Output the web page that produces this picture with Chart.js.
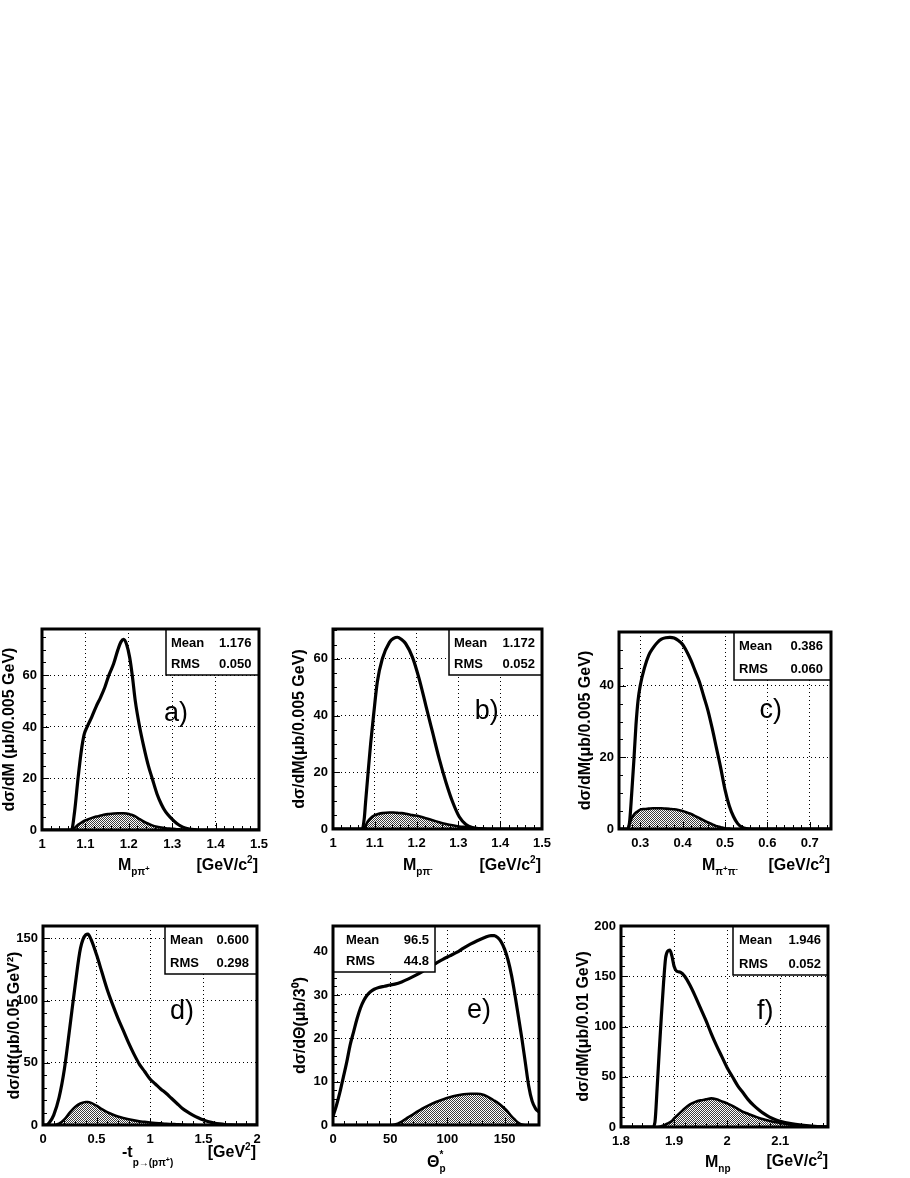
<!DOCTYPE html>
<html>
<head>
<meta charset="utf-8">
<script src="https://cdn.jsdelivr.net/npm/chart.js@4/dist/chart.umd.min.js"></script>
<style>
  body { margin: 0; background: #fff; }
  #page { position: relative; width: 910px; height: 1178px; overflow: hidden; background: #fff; }
  #page canvas { position: absolute; }
</style>
</head>
<body>
<div id="page">
  <canvas id="pa"></canvas>
  <canvas id="pb"></canvas>
  <canvas id="pc"></canvas>
  <canvas id="pd"></canvas>
  <canvas id="pe"></canvas>
  <canvas id="pf"></canvas>
</div>
<script>
// a) M(p pi+)
const mPpipX   = [1.00, 1.03, 1.06, 1.068, 1.075, 1.083, 1.09, 1.097, 1.104, 1.115, 1.125, 1.135, 1.145, 1.154, 1.165, 1.175, 1.182, 1.188, 1.195, 1.202, 1.208, 1.215, 1.225, 1.235, 1.245, 1.254, 1.265, 1.275, 1.285, 1.298, 1.31, 1.32, 1.33, 1.34, 1.35, 1.36, 1.40, 1.45, 1.50];
const mPpipAll = [0, 0, 0, 0, 7, 20, 30, 37, 40, 44, 48, 51.5, 55.5, 60, 64.5, 70, 73, 74, 72, 67, 60, 50, 40, 32, 25, 20, 14, 10, 7, 4.5, 2.6, 1.5, 0.8, 0.4, 0.15, 0, 0, 0, 0];
const mPpipSel = [0, 0, 0, 0, 0.8, 2, 2.8, 3.5, 4, 4.7, 5.2, 5.6, 6, 6.2, 6.4, 6.5, 6.5, 6.5, 6.4, 6.1, 5.8, 5.3, 4.2, 3.2, 2.4, 1.8, 1.3, 1.0, 0.7, 0.5, 0.3, 0.2, 0.1, 0, 0, 0, 0, 0, 0];
const mPpipXTicks = [1, 1.1, 1.2, 1.3, 1.4, 1.5];
const mPpipYTicks = [0, 20, 40, 60];

// b) M(p pi-)
const mPpimX   = [1.00, 1.03, 1.06, 1.07, 1.075, 1.078, 1.084, 1.09, 1.097, 1.106, 1.118, 1.135, 1.145, 1.154, 1.164, 1.174, 1.19, 1.206, 1.222, 1.238, 1.254, 1.27, 1.286, 1.302, 1.318, 1.333, 1.35, 1.37, 1.40, 1.45, 1.50];
const mPpimAll = [0, 0, 0, 0, 4, 9.6, 20, 30, 40, 51.8, 60, 65.8, 67.2, 67.6, 66.8, 65.3, 60.6, 53, 43.6, 34.2, 24.8, 16.6, 9.6, 4.3, 1.6, 0.5, 0.1, 0, 0, 0, 0];
const mPpimSel = [0, 0, 0, 0, 0.5, 1.2, 2.8, 3.8, 4.6, 5.2, 5.6, 5.8, 5.8, 5.7, 5.6, 5.4, 4.9, 4.5, 3.8, 3.1, 2.4, 1.8, 1.3, 0.9, 0.65, 0.4, 0.15, 0, 0, 0, 0];
const mPpimXTicks = [1, 1.1, 1.2, 1.3, 1.4, 1.5];
const mPpimYTicks = [0, 20, 40, 60];

// c) M(pi+ pi-)
const mPipiX   = [0.25, 0.26, 0.27, 0.275, 0.28, 0.285, 0.29, 0.295, 0.30, 0.31, 0.32, 0.33, 0.34, 0.35, 0.36, 0.37, 0.38, 0.39, 0.40, 0.41, 0.42, 0.43, 0.44, 0.45, 0.46, 0.47, 0.48, 0.49, 0.50, 0.51, 0.52, 0.53, 0.54, 0.55, 0.56, 0.60, 0.65, 0.70, 0.75];
const mPipiAll = [0, 0, 0, 2, 10, 19, 29, 36, 40, 45, 48.5, 50.5, 52, 53, 53.4, 53.5, 53.3, 52.6, 51.5, 49.5, 47, 44, 41, 37, 33, 28, 22.5, 17, 11, 6.5, 3.5, 1.5, 0.5, 0.1, 0, 0, 0, 0, 0];
const mPipiSel = [0, 0, 0, 1.5, 3, 4, 4.6, 5.0, 5.4, 5.6, 5.7, 5.8, 5.8, 5.8, 5.7, 5.6, 5.5, 5.3, 5.0, 4.6, 4.2, 3.6, 3.0, 2.4, 1.8, 1.3, 0.8, 0.5, 0.2, 0.1, 0, 0, 0, 0, 0, 0, 0, 0, 0];
const mPipiXTicks = [0.3, 0.4, 0.5, 0.6, 0.7];
const mPipiYTicks = [0, 20, 40];

// d) -t
const tX   = [0, 0.03, 0.06, 0.1, 0.15, 0.2, 0.25, 0.3, 0.35, 0.4, 0.42, 0.45, 0.5, 0.55, 0.6, 0.65, 0.7, 0.75, 0.8, 0.85, 0.9, 0.95, 1.0, 1.05, 1.1, 1.15, 1.2, 1.25, 1.3, 1.35, 1.4, 1.45, 1.5, 1.55, 1.6, 1.65, 1.7, 1.75, 1.8, 1.9, 2.0];
const tAll = [0, 0, 2, 8, 22, 45, 78, 112, 142, 153, 153.5, 149, 137, 123, 109, 97, 86, 76, 66, 57, 49, 43, 37, 33, 29, 25.5, 21.5, 17.5, 13.5, 10.5, 8, 5.8, 4, 2.6, 1.6, 0.9, 0.4, 0.15, 0, 0, 0];
const tSel = [0, 0, 0, 0, 1, 4.5, 10, 14.5, 17.3, 18.5, 18.5, 17.8, 15.5, 12.8, 10.3, 8.4, 6.9, 5.7, 4.6, 3.7, 3.0, 2.5, 2.0, 1.6, 1.3, 1.0, 0.8, 0.6, 0.4, 0.25, 0.15, 0.05, 0, 0, 0, 0, 0, 0, 0, 0, 0];
const tXTicks = [0, 0.5, 1, 1.5, 2];
const tYTicks = [0, 50, 100, 150];

// e) Theta*_p
const thX   = [0, 3, 6, 9, 12, 15, 18, 21, 24, 27, 30, 33, 36, 40, 45, 50, 54, 60, 66, 72, 78, 84, 90, 96, 102, 108, 114, 120, 126, 132, 138, 141, 144, 147, 150, 153, 156, 159, 162, 165, 168, 171, 174, 177, 180];
const thAll = [2, 4.5, 7.5, 11, 14.5, 18.5, 21.5, 24.5, 27, 28.8, 30, 30.8, 31.3, 31.7, 32, 32.3, 32.5, 33, 33.7, 34.5, 35.4, 36.4, 37.3, 38.2, 39, 39.8, 40.8, 41.7, 42.5, 43.2, 43.7, 43.7, 43.2, 42.2, 40.5, 38, 34.5, 30, 25, 20, 14.5, 9, 5.5, 3.8, 3];
const thSel = [0, 0, 0, 0, 0, 0, 0, 0, 0, 0, 0, 0, 0, 0, 0, 0, 0.1, 0.8, 1.8, 2.8, 3.8, 4.6, 5.3, 5.9, 6.4, 6.8, 7.1, 7.2, 7.2, 6.9, 6.1, 5.6, 5.1, 4.5, 3.8, 3.0, 2.0, 1.2, 0.5, 0.1, 0, 0, 0, 0, 0];
const thXTicks = [0, 50, 100, 150];
const thYTicks = [0, 10, 20, 30, 40];

// f) M(n p)
const mNpX   = [1.8, 1.83, 1.86, 1.864, 1.868, 1.872, 1.876, 1.88, 1.884, 1.888, 1.892, 1.896, 1.9, 1.905, 1.912, 1.92, 1.93, 1.94, 1.95, 1.96, 1.97, 1.98, 1.99, 2.0, 2.01, 2.02, 2.03, 2.04, 2.05, 2.06, 2.07, 2.08, 2.09, 2.1, 2.12, 2.14, 2.16, 2.18, 2.19];
const mNpAll = [0, 0, 0, 5, 38, 75, 110, 142, 168, 175, 176, 170, 160, 155, 154, 150, 141, 130, 118, 106, 93, 81, 70, 59, 50, 41, 34, 27, 21.5, 17, 13, 9.8, 7.5, 5.8, 3.5, 2, 1, 0.3, 0.1];
const mNpSel = [0, 0, 0, 0, 0, 0.3, 0.8, 1.5, 2.5, 3.5, 4.5, 6, 8.5, 11, 14.5, 18.5, 22.5, 25, 26.5, 27.5, 28.5, 27.5, 25.5, 23.5, 21, 18, 15, 13, 11, 9, 7.5, 6, 5, 4, 2.3, 1.2, 0.5, 0.1, 0];
const mNpXTicks = [1.8, 1.9, 2, 2.1];
const mNpYTicks = [0, 50, 100, 150, 200];

const statMean  = ['1.176', '1.172', '0.386', '0.600', '96.5', '1.946'];
const statRms   = ['0.050', '0.052', '0.060', '0.298', '44.8', '0.052'];
const panelTags = ['a)', 'b)', 'c)', 'd)', 'e)', 'f)'];
const yTitles   = ['dσ/dM (μb/0.005 GeV)', 'dσ/dM(μb/0.005 GeV)', 'dσ/dM(μb/0.005 GeV)',
                   'dσ/dt(μb/0.05 GeV²)', 'dσ/dΘ(μb/3⁰)', 'dσ/dM(μb/0.01 GeV)'];

const FONT = "'Liberation Sans', Arial, Helvetica, sans-serif";
Chart.defaults.color = '#000';
Chart.defaults.font.family = FONT;

// x: [min, max, major step, minor divisions], y: [max, major step, minor divisions]
const panels = [
  { id: 'pa', canvas: [0, 600, 290, 295], area: [42, 629, 259, 830], xs: mPpipX, all: mPpipAll, sel: mPpipSel,
    xTicks: mPpipXTicks, yTicks: mPpipYTicks,
    x: [1, 1.5, 0.1, 5], y: [78, 20, 4], tagAt: [1.309, 45], stat: { w: 93, h: 46, left: false, padL: 5, padR: 7.5 },
    xTitle: { at: [118, 870], parts: [['M', 16, 0], ['pπ', 10, 5], ['+', 8, 1]] },
    unit: { at: [258, 870], parts: [['[GeV/c', 16, 0], ['2', 10, -7], [']', 16, 0]] } },
  { id: 'pb', canvas: [290, 600, 290, 295], area: [333, 629, 542, 829], xs: mPpimX, all: mPpimAll, sel: mPpimSel,
    xTicks: mPpimXTicks, yTicks: mPpimYTicks,
    x: [1, 1.5, 0.1, 5], y: [70.5, 20, 4], tagAt: [1.368, 41.5], stat: { w: 93, h: 46, left: false, padL: 5, padR: 7 },
    xTitle: { at: [403, 870], parts: [['M', 16, 0], ['pπ', 10, 5], ['-', 8, 1]] },
    unit: { at: [541, 870], parts: [['[GeV/c', 16, 0], ['2', 10, -7], [']', 16, 0]] } },
  { id: 'pc', canvas: [576, 600, 334, 295], area: [619, 632, 831, 829], xs: mPipiX, all: mPipiAll, sel: mPipiSel,
    xTicks: mPipiXTicks, yTicks: mPipiYTicks,
    x: [0.25, 0.75, 0.1, 5], y: [55, 20, 4], tagAt: [0.608, 33], stat: { w: 97, h: 48, left: false, padL: 5, padR: 8 },
    xTitle: { at: [702, 870], parts: [['M', 16, 0], ['π', 10, 5], ['+', 8, 1], ['π', 10, 5], ['-', 8, 1]] },
    unit: { at: [830, 870], parts: [['[GeV/c', 16, 0], ['2', 10, -7], [']', 16, 0]] } },
  { id: 'pd', canvas: [5, 895, 285, 283], area: [43, 926, 257, 1125], xs: tX, all: tAll, sel: tSel,
    xTicks: tXTicks, yTicks: tYTicks,
    x: [0, 2, 0.5, 5], y: [160, 50, 5], tagAt: [1.299, 91.4], stat: { w: 92, h: 48, left: false, padL: 5, padR: 8 },
    xTitle: { at: [122, 1157], parts: [['-t', 16, 0], ['p→(pπ', 10, 9], ['+', 7, 5], [')', 10, 9]] },
    unit: { at: [256, 1157], parts: [['[GeV', 16, 0], ['2', 10, -7], [']', 16, 0]] } },
  { id: 'pe', canvas: [291, 895, 289, 283], area: [333, 926, 539, 1125], xs: thX, all: thAll, sel: thSel,
    xTicks: thXTicks, yTicks: thYTicks,
    x: [0, 180, 50, 5], y: [45.9, 10, 5], tagAt: [127.6, 26.3], stat: { w: 102, h: 46, left: true, padL: 13, padR: 6 },
    xTitle: { at: [427, 1167], parts: [['Θ', 16, 0], ['*', 10, -9, true], ['p', 10, 5]] },
    unit: null },
  { id: 'pf', canvas: [574, 895, 336, 283], area: [621, 926, 828, 1127], xs: mNpX, all: mNpAll, sel: mNpSel,
    xTicks: mNpXTicks, yTicks: mNpYTicks,
    x: [1.8, 2.19, 0.1, 5], y: [200, 50, 5], tagAt: [2.072, 115], stat: { w: 95, h: 49, left: false, padL: 6, padR: 7 },
    xTitle: { at: [705, 1167], parts: [['M', 16, 0], ['np', 10, 5]] },
    unit: { at: [828, 1166], parts: [['[GeV/c', 16, 0], ['2', 10, -7], [']', 16, 0]] } }
];

function shadePattern() {
  const c = document.createElement('canvas');
  c.width = 2; c.height = 2;
  const g = c.getContext('2d');
  g.fillStyle = '#fff';
  g.fillRect(0, 0, 2, 2);
  g.fillStyle = '#3c3c3c';
  g.fillRect(0, 0, 1, 1);
  g.fillRect(1, 1, 1, 1);
  return g.createPattern(c, 'repeat');
}

// draws a text run with sub/superscripts: [text, size, dy, noAdvance]
function rich(ctx, x, y, parts, align) {
  let w = 0;
  parts.forEach(p => {
    ctx.font = 'bold ' + p[1] + 'px ' + FONT;
    if (!p[3]) w += ctx.measureText(p[0]).width;
  });
  let cx = align === 'right' ? x - w : x;
  ctx.textAlign = 'left';
  ctx.textBaseline = 'alphabetic';
  parts.forEach(p => {
    ctx.font = 'bold ' + p[1] + 'px ' + FONT;
    ctx.fillText(p[0], cx, y + p[2]);
    if (!p[3]) cx += ctx.measureText(p[0]).width;
  });
}

function build(p, i) {
  const cv = document.getElementById(p.id);
  const [cl, ct, cw, ch] = p.canvas;
  const [L, T, R, B] = p.area;
  cv.width = cw; cv.height = ch;
  cv.style.left = cl + 'px'; cv.style.top = ct + 'px';
  const pts = ys => p.xs.map((x, k) => ({ x: x, y: ys[k] }));

  const decor = {
    id: 'decor' + i,
    afterDatasetsDraw(chart) {
      const ctx = chart.ctx, a = chart.chartArea;
      const sx = chart.scales.x, sy = chart.scales.y;
      ctx.save();
      ctx.strokeStyle = '#000';
      ctx.fillStyle = '#000';
      ctx.lineWidth = 1;

      // inner tick marks, ROOT style
      const [x0, x1, xMaj, xDiv] = p.x;
      const xm = xMaj / xDiv;
      for (let k = Math.ceil(x0 / xm - 1e-6); k * xm <= x1 + 1e-9; k++) {
        const px = Math.round(sx.getPixelForValue(k * xm)) + 0.5;
        const len = k % xDiv === 0 ? 7 : 4;
        ctx.beginPath(); ctx.moveTo(px, a.bottom); ctx.lineTo(px, a.bottom - len); ctx.stroke();
      }
      const [y1, yMaj, yDiv] = p.y;
      const ym = yMaj / yDiv;
      for (let k = 0; k * ym <= y1 + 1e-9; k++) {
        const py = Math.round(sy.getPixelForValue(k * ym)) + 0.5;
        const len = k % yDiv === 0 ? 7 : 4;
        ctx.beginPath(); ctx.moveTo(a.left, py); ctx.lineTo(a.left + len, py); ctx.stroke();
      }

      // stats box
      const s = p.stat;
      const bx = s.left ? a.left : a.right - s.w;
      ctx.fillStyle = '#fff';
      ctx.fillRect(bx, a.top, s.w, s.h);
      ctx.lineWidth = 1.5;
      ctx.strokeRect(bx, a.top, s.w, s.h);
      ctx.fillStyle = '#000';
      ctx.font = 'bold 13px ' + FONT;
      ctx.textBaseline = 'middle';
      ctx.textAlign = 'left';
      ctx.fillText('Mean', bx + s.padL, a.top + 14);
      ctx.fillText('RMS', bx + s.padL, a.top + s.h - 11);
      ctx.textAlign = 'right';
      ctx.fillText(statMean[i], bx + s.w - s.padR, a.top + 14);
      ctx.fillText(statRms[i], bx + s.w - s.padR, a.top + s.h - 11);

      // frame
      ctx.lineWidth = 3;
      ctx.strokeRect(a.left, a.top, a.right - a.left, a.bottom - a.top);

      // panel tag
      ctx.font = '27px ' + FONT;
      ctx.textAlign = 'center';
      ctx.textBaseline = 'middle';
      ctx.fillText(panelTags[i], sx.getPixelForValue(p.tagAt[0]), sy.getPixelForValue(p.tagAt[1]));

      // x axis title and unit
      rich(ctx, p.xTitle.at[0] - cl, p.xTitle.at[1] - ct, p.xTitle.parts, 'left');
      if (p.unit) rich(ctx, p.unit.at[0] - cl, p.unit.at[1] - ct, p.unit.parts, 'right');
      ctx.restore();
    }
  };

  new Chart(cv, {
    type: 'line',
    data: {
      datasets: [
        { data: pts(p.all), borderColor: '#000', borderWidth: 3.2, fill: false,
          pointRadius: 0, cubicInterpolationMode: 'monotone' },
        { data: pts(p.sel), borderColor: '#000', borderWidth: 2.6, backgroundColor: shadePattern(),
          fill: 'origin', pointRadius: 0, cubicInterpolationMode: 'monotone' }
      ]
    },
    options: {
      responsive: false,
      animation: false,
      events: [],
      layout: { padding: { left: 0, top: T - ct, right: cl + cw - R, bottom: 0 } },
      plugins: { legend: { display: false }, tooltip: { enabled: false } },
      scales: {
        x: {
          type: 'linear', min: p.x[0], max: p.x[1],
          afterBuildTicks: sc => { sc.ticks = p.xTicks.map(v => ({ value: v })); },
          afterFit: sc => { sc.height = ct + ch - B; },
          ticks: { autoSkip: false, maxRotation: 0, padding: 7,
                   callback: v => String(v), font: { size: 13, weight: 'bold' } },
          grid: { color: '#000', lineWidth: 1, drawTicks: false },
          border: { display: false, dash: [1, 3] }
        },
        y: {
          type: 'linear', min: 0, max: p.y[0],
          afterBuildTicks: sc => { sc.ticks = p.yTicks.map(v => ({ value: v })); },
          afterFit: sc => { sc.width = L - cl; },
          ticks: { autoSkip: false, padding: 5,
                   callback: v => String(v), font: { size: 13, weight: 'bold' } },
          grid: { color: '#000', lineWidth: 1, drawTicks: false },
          border: { display: false, dash: [1, 3] },
          title: { display: true, text: yTitles[i], padding: 0, font: { size: 16, weight: 'bold' } }
        }
      }
    },
    plugins: [decor]
  });
}

panels.forEach(build);
</script>
</body>
</html>
